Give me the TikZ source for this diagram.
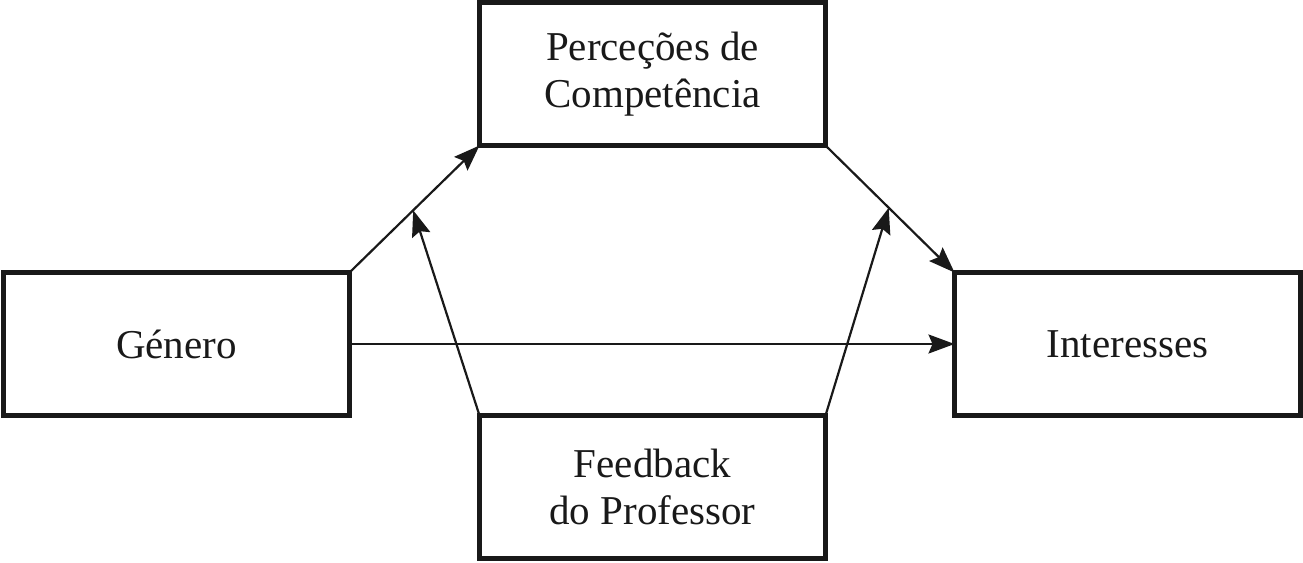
\documentclass[tikz,border=0pt]{standalone}
\usepackage{fontspec}
\setmainfont{Liberation Serif}
\usetikzlibrary{arrows.meta}
\begin{document}
\begin{tikzpicture}[x=1pt,y=-1pt,
  box/.style={draw=black!90, line width=5pt, minimum width=346pt, minimum height=143pt,
    inner sep=0pt, outer sep=0pt, align=center, font=\fontsize{41}{47}\selectfont, text=black!90},
  arr/.style={line width=2.2pt, draw=black!90, -{Stealth[length=26pt,width=19pt,inset=4pt]}}]
\useasboundingbox (0,0) rectangle (1303,562);
\node[box] (pc) at (652.5,74) {Perceções de\\Competência};
\node[box] (g) at (176.5,344) {Género};
\node[box] (i) at (1127.5,344) {Interesses};
\node[box] (f) at (652.5,487) {Feedback\\do Professor};
\draw[arr] (g.north east) -- coordinate[pos=0.49] (m1) (pc.south west);
\draw[arr] (pc.south east) -- coordinate[pos=0.49] (m2) (i.north west);
\draw[arr] (g.east) -- (i.west);
\draw[arr] (f.north west) -- (m1);
\draw[arr] (f.north east) -- (m2);
\end{tikzpicture}
\end{document}
